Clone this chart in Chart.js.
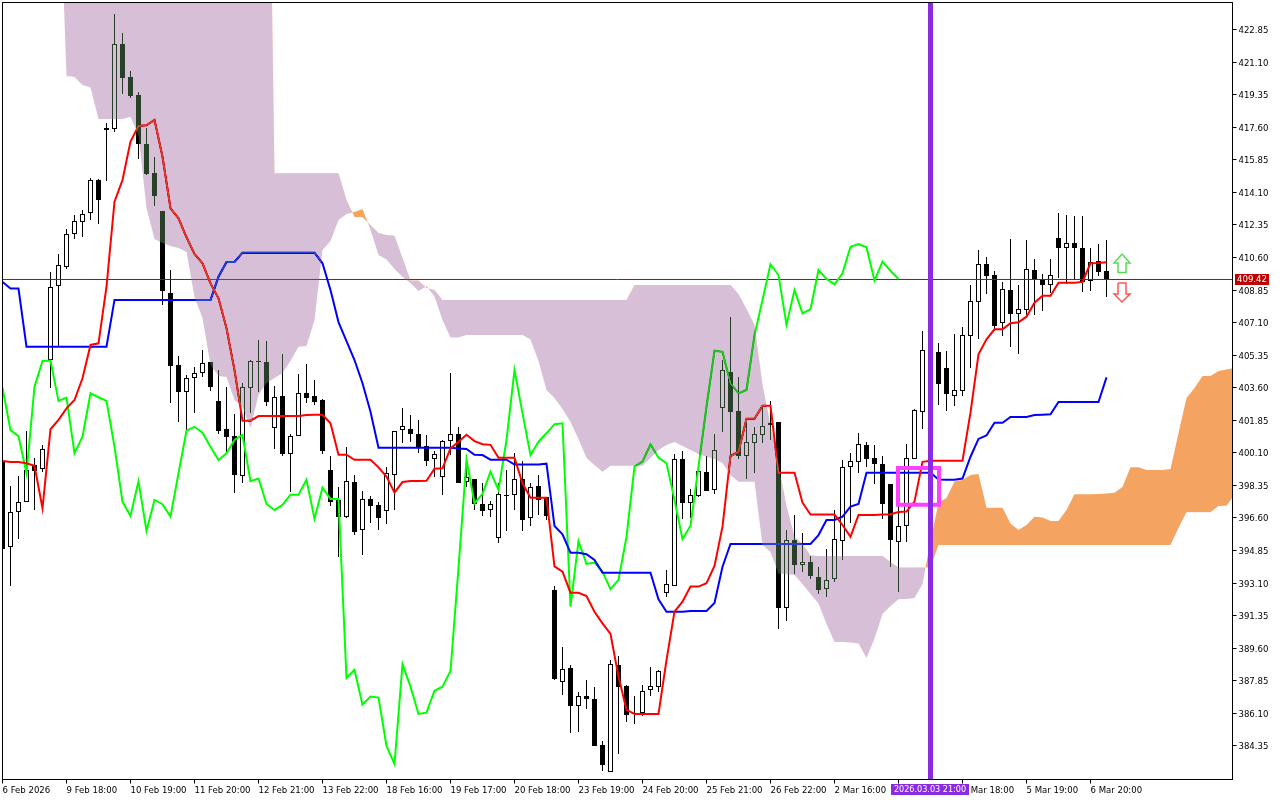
<!DOCTYPE html>
<html>
<head>
<meta charset="utf-8">
<title>Ichimoku</title>
<script src="https://cdn.jsdelivr.net/npm/chart.js@4/dist/chart.umd.min.js"></script>
<style>
html, body { margin: 0; padding: 0; background: #fff; }
canvas { display: block; }
</style>
</head>
<body>
<canvas id="chart" width="1280" height="800"></canvas>
<script>
const opens = [
  399.66, 395.03, 396.91, 397.45, 399.44, 399.22, 405.11, 409.08, 410.07, 411.88,
  412.52, 412.97, 414.75, 417.44, 417.49, 422.07, 420.29, 419.34, 416.70, 415.15,
  413.10, 408.68, 404.83, 403.39, 404.11, 404.38, 404.98, 402.89, 401.38, 401.00,
  398.87, 403.57, 405.01, 404.98, 401.42, 403.16, 400.05, 401.02, 403.30, 403.16,
  402.94, 399.18, 397.57, 396.67, 398.53, 395.94, 397.62, 397.28, 396.99, 398.92,
  401.31, 401.36, 401.11, 400.45, 399.75, 398.79, 400.73, 401.09, 398.52, 398.67,
  397.35, 397.01, 395.54, 397.86, 397.84, 398.72, 396.58, 398.32, 397.74, 392.73,
  387.79, 388.53, 386.50, 387.03, 386.86, 384.40, 382.93, 388.69, 387.56, 386.13,
  386.09, 387.33, 387.53, 392.58, 392.93, 399.77, 397.42, 397.80, 399.05, 398.09,
  402.53, 404.45, 402.35, 399.94, 400.65, 401.04, 401.58, 401.76, 391.78, 395.41,
  394.09, 394.25, 393.43, 392.80, 393.34, 395.35, 399.32, 399.59, 400.51, 399.82,
  399.50, 398.42, 395.29, 396.15, 399.79, 402.31, 405.09, 405.52, 404.66, 403.17,
  403.44, 406.40, 408.23, 410.24, 409.66, 407.10, 408.84, 407.58, 407.76, 409.91,
  409.43, 409.14, 411.63, 411.10, 411.37, 411.10, 409.32, 410.40, 409.88
];
const highs = [
  399.66, 398.32, 398.85, 401.27, 399.82, 400.52, 409.82, 410.79, 412.13, 412.88,
  413.15, 414.88, 414.84, 417.82, 423.69, 422.67, 420.63, 419.50, 417.57, 416.01,
  413.10, 409.93, 405.31, 404.29, 404.70, 405.63, 404.98, 404.55, 403.66, 402.19,
  403.87, 405.09, 406.17, 406.11, 403.69, 405.41, 401.10, 404.34, 404.87, 404.01,
  402.99, 399.93, 398.27, 400.40, 398.93, 398.05, 397.78, 397.45, 399.34, 401.26,
  402.49, 402.13, 401.87, 401.06, 400.20, 400.78, 404.39, 401.47, 400.00, 398.72,
  398.46, 397.51, 398.50, 399.18, 400.10, 399.68, 398.50, 398.90, 397.74, 392.94,
  389.65, 388.69, 387.24, 387.89, 387.51, 384.61, 388.96, 389.18, 387.60, 387.03,
  387.60, 388.59, 388.42, 393.80, 400.03, 400.20, 398.16, 399.12, 399.93, 401.11,
  405.09, 407.39, 404.16, 401.97, 401.51, 402.58, 402.89, 401.76, 395.94, 396.76,
  395.78, 394.55, 393.98, 394.93, 397.03, 399.71, 400.07, 401.17, 400.67, 400.52,
  399.93, 398.42, 397.30, 400.58, 402.44, 406.65, 405.89, 406.00, 405.57, 406.49,
  406.87, 409.13, 411.00, 410.63, 409.88, 409.30, 411.60, 409.13, 411.54, 410.50,
  409.72, 410.52, 412.98, 412.89, 412.84, 412.84, 411.11, 411.33, 411.54
];
const lows = [
  394.94, 392.94, 395.47, 397.45, 397.05, 399.09, 403.60, 405.81, 410.00, 411.61,
  411.71, 412.61, 412.42, 414.71, 417.36, 419.39, 419.20, 415.90, 415.04, 413.37,
  408.07, 402.78, 401.76, 401.32, 402.26, 404.20, 403.45, 401.11, 400.16, 397.96,
  398.46, 402.26, 403.36, 402.64, 400.31, 399.94, 397.99, 401.02, 402.79, 402.68,
  400.05, 397.26, 394.52, 396.61, 395.70, 394.63, 396.34, 395.95, 396.29, 397.05,
  400.65, 400.70, 400.10, 399.41, 398.82, 397.83, 400.00, 398.50, 398.28, 397.03,
  396.70, 396.65, 395.27, 395.90, 397.03, 395.91, 396.17, 396.76, 396.49, 387.89,
  387.08, 385.05, 385.09, 386.33, 384.35, 383.01, 382.93, 383.90, 385.63, 385.52,
  385.96, 387.04, 387.24, 392.35, 392.93, 396.54, 396.58, 397.74, 398.05, 397.89,
  401.24, 399.96, 399.77, 398.70, 399.03, 400.65, 400.79, 390.61, 391.07, 393.58,
  393.71, 393.32, 392.51, 392.37, 393.17, 394.34, 396.31, 399.03, 399.34, 398.42,
  396.54, 393.98, 392.63, 395.32, 399.79, 401.40, 404.55, 402.67, 402.37, 402.62,
  403.17, 404.68, 406.22, 408.64, 406.74, 406.38, 405.81, 405.43, 407.51, 407.51,
  407.73, 408.70, 409.48, 409.16, 409.43, 408.76, 408.81, 409.61, 408.50
];
const closes = [
  394.94, 396.91, 397.45, 399.18, 399.14, 400.29, 409.04, 410.18, 411.85, 412.54,
  412.92, 414.75, 413.69, 417.55, 422.07, 420.27, 419.29, 416.72, 415.09, 413.91,
  408.80, 404.79, 403.39, 404.11, 404.38, 404.92, 403.66, 401.29, 400.97, 398.92,
  403.62, 405.04, 405.04, 402.85, 403.09, 400.03, 401.00, 403.30, 403.05, 402.84,
  400.21, 397.48, 396.67, 398.57, 395.86, 397.61, 397.26, 396.62, 399.00, 401.26,
  401.52, 401.12, 400.37, 399.68, 400.05, 400.73, 401.09, 398.50, 398.82, 397.35,
  396.99, 397.34, 397.87, 397.80, 398.67, 396.51, 398.25, 397.58, 396.72, 387.94,
  388.46, 386.50, 387.01, 386.88, 384.35, 383.32, 388.73, 387.53, 386.02, 386.06,
  387.28, 387.55, 388.35, 393.03, 399.75, 397.42, 397.82, 399.11, 398.05, 400.26,
  404.54, 402.31, 399.94, 400.67, 401.10, 401.57, 401.69, 391.78, 395.40, 394.07,
  394.22, 393.49, 392.73, 393.25, 395.45, 399.32, 399.65, 400.56, 399.79, 399.52,
  397.37, 395.43, 396.15, 399.81, 402.40, 405.61, 405.63, 403.82, 403.28, 403.46,
  406.42, 408.25, 410.24, 409.63, 406.92, 408.89, 407.58, 407.82, 409.97, 409.43,
  409.14, 409.68, 411.13, 411.37, 411.13, 409.30, 410.38, 409.84, 409.42
];
const tenkan = [
  399.66, 399.61, 399.61, 399.54, 399.40, 397.12, 401.37, 401.87, 402.49, 402.94,
  404.11, 405.90, 405.99, 409.03, 413.60, 414.77, 416.83, 417.67, 417.71, 418.00,
  416.02, 413.25, 412.71, 411.69, 410.79, 410.29, 409.21, 408.41, 406.80, 404.55,
  401.83, 401.83, 402.08, 402.08, 402.08, 402.08, 402.08, 402.08, 402.13, 402.15,
  402.15, 401.69, 400.00, 400.00, 399.73, 399.73, 399.73, 399.32, 398.82, 397.96,
  398.53, 398.59, 398.59, 398.60, 399.25, 399.27, 400.34, 400.70, 401.07, 400.73,
  400.56, 400.53, 399.83, 399.83, 399.83, 398.46, 397.69, 397.69, 397.69, 394.00,
  393.71, 392.58, 392.58, 392.40, 391.56, 390.93, 390.36, 388.07, 386.28, 386.06,
  386.06, 386.06, 386.06, 388.96, 391.56, 392.10, 392.91, 392.91, 393.09, 394.02,
  396.13, 399.93, 400.16, 401.93, 401.93, 402.63, 402.63, 399.03, 399.03, 399.03,
  397.42, 396.78, 396.78, 396.78, 396.78, 396.22, 395.59, 396.76, 396.76, 396.76,
  396.78, 396.80, 396.92, 396.94, 397.48, 399.62, 399.68, 399.68, 399.68, 399.68,
  399.68, 402.26, 405.40, 406.20, 406.74, 406.74, 407.07, 407.12, 407.42, 408.17,
  408.55, 408.55, 409.25, 409.25, 409.25, 409.29, 410.29, 410.31, 410.35
];
const kijun = [
  409.29, 408.93, 408.93, 405.81, 405.81, 405.81, 405.81, 405.81, 405.81, 405.81,
  405.81, 405.81, 405.81, 405.81, 408.32, 408.32, 408.32, 408.32, 408.32, 408.32,
  408.32, 408.32, 408.32, 408.32, 408.32, 408.32, 408.32, 409.57, 410.36, 410.36,
  410.86, 410.86, 410.86, 410.86, 410.86, 410.86, 410.86, 410.86, 410.86, 410.86,
  410.29, 408.85, 407.13, 406.11, 405.09, 403.84, 402.31, 400.38, 400.38, 400.38,
  400.38, 400.38, 400.38, 400.38, 400.38, 400.38, 400.38, 400.34, 400.31, 400.00,
  399.98, 399.73, 399.73, 399.73, 399.47, 399.47, 399.47, 399.47, 399.52, 396.17,
  395.72, 394.73, 394.73, 394.65, 394.34, 393.66, 393.66, 393.66, 393.66, 393.66,
  393.66, 393.66, 392.23, 391.56, 391.56, 391.56, 391.60, 391.60, 391.60, 392.03,
  393.98, 395.20, 395.20, 395.20, 395.20, 395.20, 395.20, 395.20, 395.20, 395.20,
  395.20, 395.20, 395.68, 396.49, 396.49, 396.67, 397.21, 397.35, 399.03, 399.03,
  399.03, 399.03, 399.03, 399.03, 399.03, 399.03, 399.03, 398.67, 398.65, 398.65,
  398.72, 399.89, 400.85, 401.03, 401.72, 401.72, 402.03, 402.03, 402.03, 402.13,
  402.15, 402.17, 402.83, 402.83, 402.83, 402.83, 402.83, 402.83, 404.16
];
const chikou = [
  403.60, 401.32, 401.00, 399.00, 403.66, 405.04, 405.06, 402.89, 403.07, 400.08,
  400.97, 403.30, 403.09, 402.89, 400.43, 397.48, 396.70, 398.58, 395.90, 397.57,
  397.34, 396.67, 399.00, 401.29, 401.50, 401.18, 400.43, 399.72, 400.08, 400.79,
  401.06, 398.58, 398.72, 397.35, 397.03, 397.30, 397.85, 397.85, 398.66, 396.55,
  398.23, 397.62, 397.62, 388.00, 388.44, 386.56, 387.00, 386.94, 384.34, 383.37,
  388.74, 387.53, 386.06, 386.13, 387.31, 387.53, 388.37, 393.92, 399.72, 397.39,
  397.89, 399.09, 398.10, 400.79, 404.55, 402.22, 399.98, 400.70, 401.15, 401.64,
  401.69, 391.83, 395.36, 394.13, 394.20, 393.71, 392.77, 393.27, 395.59, 399.36,
  399.63, 400.56, 399.84, 399.54, 397.57, 395.47, 396.18, 399.36, 402.58, 405.59,
  405.53, 403.84, 403.30, 403.48, 406.43, 408.32, 410.24, 409.66, 406.98, 408.85,
  407.60, 407.82, 409.93, 409.45, 409.16, 409.75, 411.18, 411.33, 411.15, 409.36,
  410.38, 409.89, 409.45
];
// both spans begin at bar 7 and run 16 bars past the last candle
const cloudStart = 7;
const senkouA = [
  432.51, 420.36, 420.31, 419.88, 419.74, 418.05, 418.05, 418.05, 418.05, 418.17,
  417.19, 413.26, 411.60, 411.38, 411.22, 411.11, 410.90, 408.48, 407.35, 404.82,
  404.23, 404.18, 402.94, 402.57, 401.44, 403.21, 403.86, 404.12, 404.39, 405.04,
  405.81, 405.85, 407.24, 411.00, 411.49, 412.62, 412.94, 413.05, 413.21, 412.08,
  410.74, 410.50, 409.99, 409.57, 409.23, 408.80, 409.05, 408.51, 407.24, 406.30,
  406.30, 406.44, 406.44, 406.44, 406.44, 406.44, 406.44, 406.44, 406.44, 406.20,
  405.04, 403.48, 403.05, 402.46, 401.76, 400.85, 399.82, 399.45, 399.09, 399.41,
  399.41, 399.41, 399.41, 399.41, 399.82, 400.25, 400.52, 400.68, 400.47, 400.25,
  400.04, 399.89, 399.77, 399.55, 398.91, 398.55, 398.55, 398.55, 395.14, 394.77,
  393.61, 393.59, 393.53, 393.05, 392.51, 392.00, 390.90, 389.93, 389.93, 389.90,
  389.85, 389.07, 390.12, 391.44, 391.87, 392.23, 392.24, 392.30, 393.05, 395.36,
  397.40, 397.67, 398.56, 398.64, 398.91, 398.96, 397.15, 397.15, 397.15, 396.30,
  395.95, 396.22, 396.67, 396.63, 396.44, 396.44, 397.03, 397.87, 397.87, 397.88,
  397.89, 397.92, 397.96, 398.27, 399.32, 399.32, 399.18, 399.18, 399.18, 399.23,
  401.17, 403.05, 403.59, 404.23, 404.23, 404.50, 404.58, 404.66
];
const senkouB = [
  444.80, 444.80, 444.80, 444.80, 444.80, 444.80, 444.80, 444.80, 444.80, 444.80,
  444.80, 444.80, 444.80, 444.80, 444.80, 444.80, 444.80, 444.80, 444.80, 444.80,
  444.80, 444.80, 444.80, 444.80, 444.80, 444.80, 444.80, 415.13, 415.13, 415.13,
  415.13, 415.13, 415.13, 415.13, 415.13, 415.13, 413.69, 412.78, 412.76, 412.35,
  411.92, 411.81, 411.77, 410.57, 409.37, 409.36, 408.96, 408.85, 408.32, 408.32,
  408.32, 408.32, 408.32, 408.32, 408.32, 408.32, 408.32, 408.32, 408.32, 408.32,
  408.32, 408.32, 408.32, 408.32, 408.32, 408.32, 408.32, 408.32, 408.32, 408.32,
  408.32, 408.32, 409.13, 409.13, 409.13, 409.13, 409.13, 409.13, 409.13, 409.13,
  409.13, 409.13, 409.13, 409.13, 409.13, 408.64, 407.83, 406.97, 403.75, 401.60,
  399.45, 397.24, 395.58, 395.20, 394.58, 394.55, 394.55, 394.55, 394.55, 394.55,
  394.55, 394.55, 394.55, 394.55, 394.23, 393.93, 393.93, 393.93, 393.93, 393.93,
  395.14, 395.14, 395.14, 395.14, 395.14, 395.14, 395.14, 395.14, 395.14, 395.14,
  395.14, 395.14, 395.14, 395.14, 395.14, 395.14, 395.14, 395.14, 395.14, 395.14,
  395.14, 395.14, 395.14, 395.14, 395.14, 395.14, 395.14, 395.14, 395.14, 395.14,
  396.06, 396.91, 396.91, 396.91, 396.91, 397.24, 397.26, 397.84
];

const yTicks = [422.85, 421.10, 419.35, 417.60, 415.85, 414.10, 412.35, 410.60, 408.85, 407.10, 405.35, 403.60,
  401.85, 400.10, 398.35, 396.60, 394.85, 393.10, 391.35, 389.60, 387.85, 386.10, 384.35];
const xTickBars = [0, 8, 16, 24, 32, 40, 48, 56, 64, 72, 80, 88, 96, 104, 112, 120, 128, 136];
const xTickLabels = ['6 Feb 2026', '9 Feb 18:00', '10 Feb 19:00', '11 Feb 20:00', '12 Feb 21:00', '13 Feb 22:00',
  '18 Feb 16:00', '19 Feb 17:00', '20 Feb 18:00', '23 Feb 19:00', '24 Feb 20:00', '25 Feb 21:00', '26 Feb 22:00',
  '2 Mar 16:00', '3 Mar 17:00', '4 Mar 18:00', '5 Mar 19:00', '6 Mar 20:00'];

const barMin = 0, barMax = 153.75;
const priceMin = 382.538, priceMax = 424.312;

const bidPrice = 409.42;
const markerBar = 116;
const markerLabel = '2026.03.03 21:00';
const boxBars = [111.94, 117.06, 117.06, 111.94, 111.94];
const boxPrices = [399.29, 399.29, 397.31, 397.31, 399.29];
const upArrowBars = [139.94, 140.94, 140.44, 140.44, 139.44, 139.44, 138.94, 139.94];
const upArrowPrices = [410.79, 410.31, 410.31, 409.79, 409.79, 410.31, 410.31, 410.79];
const downArrowBars = [139.44, 140.44, 140.44, 140.94, 139.94, 138.94, 139.44, 139.44];
const downArrowPrices = [409.23, 409.23, 408.64, 408.64, 408.21, 408.64, 408.64, 409.23];

const FONT = '"DejaVu Sans Condensed", "DejaVu Sans", sans-serif';
const series = (arr, start = 0) => arr.map((v, i) => ({ x: start + i, y: v }));
const pairs = (xs, ys) => xs.map((x, i) => ({ x: x, y: ys[i] }));

function lineSet(label, data, color, width, order) {
  return { type: 'line', label, data, borderColor: color, borderWidth: width, order,
    pointRadius: 0, tension: 0, fill: false };
}

const TENKAN_INDEX = 5, SPAN_A_INDEX = 7;

const datasets = [
  { label: 'wicks', data: highs.map((h, i) => ({ x: i, y: [lows[i], h] })), grouped: false,
    backgroundColor: '#000', maxBarThickness: 1, inflateAmount: 0, order: 20 },
  { label: 'bodies', data: opens.map((o, i) => ({ x: i, y: [o, closes[i]] })), grouped: false,
    backgroundColor: opens.map((o, i) => closes[i] >= o ? '#fff' : '#000'),
    borderColor: '#000', borderWidth: 1, borderSkipped: false, maxBarThickness: 5, inflateAmount: 0, order: 19 },
  lineSet('bid', pairs([barMin, barMax], [bidPrice, bidPrice]), '#C00000', 1, 18),
  lineSet('chikou', series(chikou), '#00FF00', 2, 17),
  lineSet('kijun', series(kijun), '#0000FF', 2, 16),
  lineSet('tenkan', series(tenkan), '#FF0000', 2, 15),
  // the cloud is painted with "difference", so these are the inverses of thistle and sandy brown
  lineSet('senkouB', series(senkouB, cloudStart), 'transparent', 0, 12),
  Object.assign(lineSet('senkouA', series(senkouA, cloudStart), 'transparent', 0, 11),
    { fill: { target: 6, above: '#0B5B9F', below: '#274027' } }),
  Object.assign(lineSet('box', pairs(boxBars, boxPrices), '#FF40FF', 4, 4),
    { borderCapStyle: 'square', borderJoinStyle: 'miter' }),
  lineSet('marker', pairs([markerBar, markerBar], [priceMin, priceMax]), '#8A2BE2', 5, 3),
  lineSet('up', pairs(upArrowBars, upArrowPrices), '#55DD55', 1.5, 2),
  lineSet('down', pairs(downArrowBars, downArrowPrices), '#FF5555', 1.5, 2)
];

// MT5 draws the cloud in xor mode over everything below it
const chrome = {
  id: 'chrome',
  beforeDraw(chart) {
    const c = chart.ctx;
    c.save();
    c.fillStyle = '#fff';
    c.fillRect(0, 0, chart.width, chart.height);
    c.restore();
  },
  // snap candles to whole pixels, a doji still gets one row
  afterDatasetsUpdate(chart) {
    [0, 1].forEach(k => chart.getDatasetMeta(k).data.forEach(bar => {
      const top = Math.round(Math.min(bar.y, bar.base));
      const bottom = Math.max(Math.round(Math.max(bar.y, bar.base)), top + 1);
      bar.y = top;
      bar.base = bottom;
      bar.height = bottom - top;
    }));
  },
  afterDatasetDraw(chart, args) {
    if (args.index === TENKAN_INDEX) chart.ctx.globalCompositeOperation = 'difference';
    if (args.index === SPAN_A_INDEX) chart.ctx.globalCompositeOperation = 'source-over';
  },
  afterDraw(chart) {
    const c = chart.ctx, a = chart.chartArea;
    c.save();
    c.strokeStyle = '#000';
    c.lineWidth = 1;
    c.strokeRect(a.left, a.top, a.right - a.left, a.bottom - a.top);
    c.font = '9.5px ' + FONT;
    c.textBaseline = 'middle';
    c.textAlign = 'center';
    // bid price tag
    const by = chart.scales.y.getPixelForValue(bidPrice);
    c.fillStyle = '#C00000';
    c.fillRect(1235, by - 5.5, 34, 11);
    c.fillStyle = '#fff';
    c.fillText(bidPrice.toFixed(2), 1252, by + 0.5);
    // vertical line time tag
    const mx = chart.scales.x.getPixelForValue(markerBar);
    c.font = '9px ' + FONT;
    c.fillStyle = '#8A2BE2';
    c.fillRect(mx - 39.5, 784, 78, 11);
    c.fillStyle = '#fff';
    c.fillText(markerLabel, mx - 0.5, 790);
    c.restore();
  }
};

new Chart(document.getElementById('chart').getContext('2d'), {
  type: 'bar',
  data: { datasets },
  plugins: [chrome],
  options: {
    responsive: false,
    animation: false,
    devicePixelRatio: 1,
    barPercentage: 1,
    categoryPercentage: 1,
    layout: { autoPadding: false, padding: { left: 2.5, top: 2.5, right: 0, bottom: 0 } },
    plugins: { legend: { display: false }, tooltip: { enabled: false }, title: { display: false } },
    scales: {
      x: {
        type: 'linear', offset: false, min: barMin, max: barMax,
        grid: { offset: false, drawOnChartArea: false, color: '#000', tickLength: 4 },
        border: { color: '#000' },
        afterBuildTicks(axis) { axis.ticks = xTickBars.map(v => ({ value: v })); },
        afterFit(axis) { axis.height = 20.5; axis.paddingLeft = 0; axis.paddingRight = 0; },
        ticks: {
          autoSkip: false, maxRotation: 0, minRotation: 0, align: 'start', padding: 1, color: '#000',
          font: { family: FONT, size: 9.5 },
          callback(v, i) { return xTickLabels[i]; }
        }
      },
      y: {
        position: 'right', min: priceMin, max: priceMax,
        grid: { drawOnChartArea: false, color: '#000', tickLength: 4 },
        border: { color: '#000' },
        afterBuildTicks(axis) { axis.ticks = yTicks.map(v => ({ value: v })); },
        afterFit(axis) { axis.width = 47.5; axis.paddingTop = 0; axis.paddingBottom = 0; },
        ticks: {
          autoSkip: false, padding: 2, labelOffset: 1, color: '#000',
          font: { family: FONT, size: 9.5 },
          callback(v) { return v.toFixed(2); }
        }
      }
    }
  }
});
</script>
</body>
</html>
